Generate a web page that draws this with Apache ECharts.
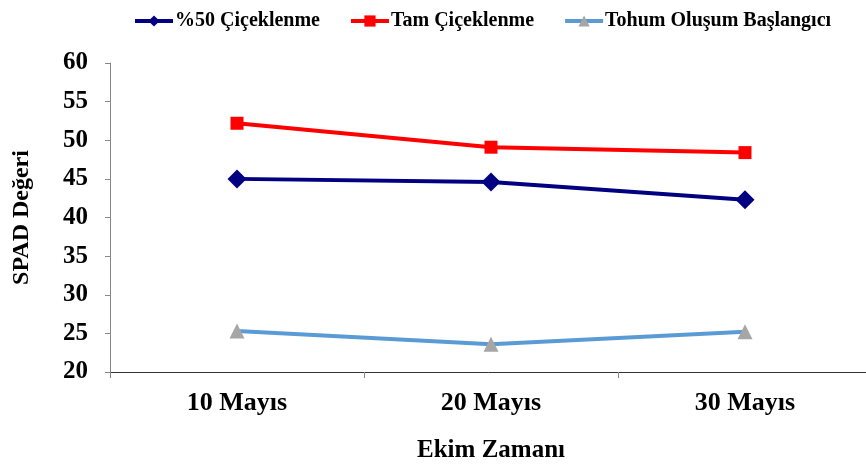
<!DOCTYPE html>
<html>
<head>
<meta charset="utf-8">
<script src="https://cdn.jsdelivr.net/npm/echarts@6/dist/echarts.min.js"></script>
<style>
  html, body { margin: 0; padding: 0; background: #fff; }
  #chart { width: 866px; height: 467px; }
</style>
</head>
<body>
<div id="chart"></div>
<script>
const categories = ['10 Mayıs', '20 Mayıs', '30 Mayıs']
const seriesNames = ['%50 Çiçeklenme', 'Tam Çiçeklenme', 'Tohum Oluşum Başlangıcı']
const ciceklenme50 = [45.0, 44.6, 42.3]
const tamCiceklenme = [52.2, 49.1, 48.4]
const tohumOlusum = [25.3, 23.6, 25.2]

const font = 'Liberation Serif'
const chart = echarts.init(document.getElementById('chart'))

const option = {
  animation: false,
  textStyle: { fontFamily: font },
  legend: {
    top: 6,
    left: 128,
    itemWidth: 38,
    itemHeight: 14,
    itemGap: 29,
    lineStyle: { width: 4 },
    textStyle: { fontFamily: font, fontWeight: 'bold', fontSize: 20, color: '#000', padding: [0, 0, 0, -3] },
    data: seriesNames,
  },
  grid: { left: 110, top: 63, width: 762, bottom: 95, outerBoundsMode: 'none' },
  xAxis: {
    type: 'category',
    data: categories,
    boundaryGap: true,
    name: 'Ekim Zamanı',
    nameLocation: 'middle',
    nameGap: 66,
    nameTextStyle: { fontFamily: font, fontWeight: 'bold', fontSize: 25, color: '#000' },
    axisLine: { lineStyle: { color: '#333', width: 1 } },
    axisTick: { show: true, length: 6, lineStyle: { color: '#888' } },
    axisLabel: { fontFamily: font, fontWeight: 'bold', fontSize: 26, color: '#000', margin: 18 },
  },
  yAxis: {
    type: 'value',
    min: 20,
    max: 60,
    interval: 5,
    name: 'SPAD Değeri',
    nameLocation: 'middle',
    nameGap: 76,
    nameTextStyle: { fontFamily: font, fontWeight: 'bold', fontSize: 24, color: '#000' },
    axisLine: { show: true, lineStyle: { color: '#888', width: 1 } },
    axisTick: { show: true, length: 5, lineStyle: { color: '#888' } },
    splitLine: { show: false },
    axisLabel: { fontFamily: font, fontWeight: 'bold', fontSize: 25, color: '#000', margin: 22 },
  },
  series: [
    {
      name: seriesNames[0],
      type: 'line',
      data: ciceklenme50,
      symbol: 'diamond',
      symbolSize: 19,
      lineStyle: { color: '#000080', width: 4 },
      itemStyle: { color: '#000080' },
    },
    {
      name: seriesNames[1],
      type: 'line',
      data: tamCiceklenme,
      symbol: 'rect',
      symbolSize: 13,
      lineStyle: { color: '#ff0000', width: 4 },
      itemStyle: { color: '#ff0000' },
    },
    {
      name: seriesNames[2],
      type: 'line',
      data: tohumOlusum,
      symbol: 'triangle',
      symbolSize: 15,
      lineStyle: { color: '#5b9bd5', width: 4 },
      itemStyle: { color: '#a6a6a6' },
    },
  ],
}

chart.setOption(option)
</script>
</body>
</html>
